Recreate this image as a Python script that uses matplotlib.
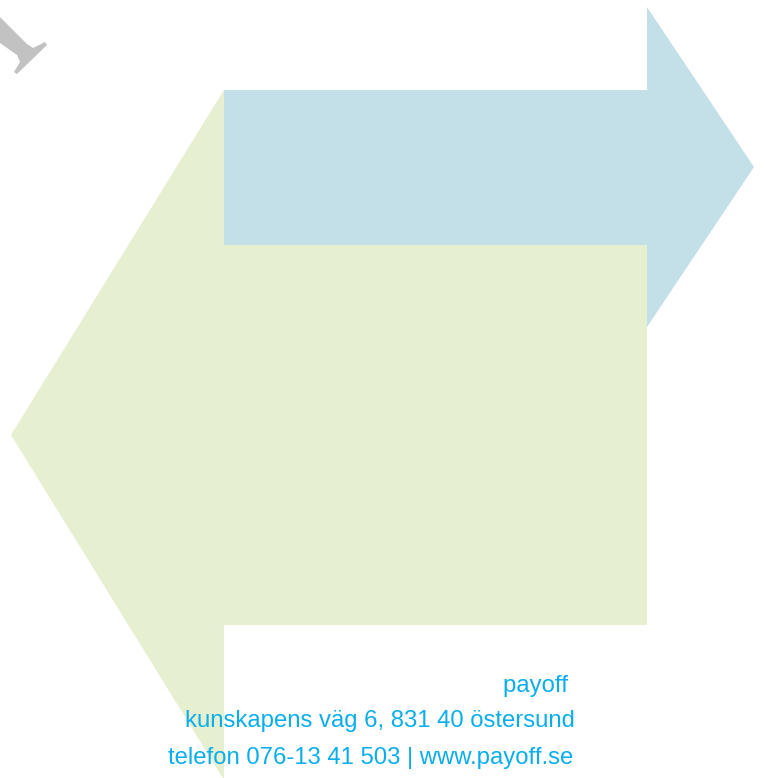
import matplotlib
matplotlib.use("Agg")
import matplotlib.pyplot as plt
from matplotlib.patches import Polygon

# Shapes (outline vertices in page pixel units, y downward)
blue_arrow_x = [224, 647, 647, 754, 647, 647, 224]
blue_arrow_y = [90, 90, 7, 167, 327, 245, 245]
green_arrow_x = [647, 224, 224, 11, 224, 224, 647]
green_arrow_y = [245, 245, 90, 435, 780, 625, 625]
gray_mark_x = [0, 27, 33, 45, 47, 17, 14, 20, 17, 0]
gray_mark_y = [17, 44, 48, 42, 45, 74, 72, 62, 55, 43]

# Footer text lines
footer_lines = ["payoff ", "kunskapens väg 6, 831 40 östersund",
                "telefon 076-13 41 503 | www.payoff.se"]
footer_x = [575, 575, 573]
footer_y = [686, 721, 758]

W, H = 765, 778
fig = plt.figure(figsize=(W / 100, H / 100), dpi=100)
ax = fig.add_axes([0, 0, 1, 1])
ax.set_xlim(0, W)
ax.set_ylim(H, 0)
ax.axis("off")

ax.add_patch(Polygon(list(zip(green_arrow_x, green_arrow_y)), closed=True,
                     facecolor="#e6efd0", edgecolor="none"))
ax.add_patch(Polygon(list(zip(blue_arrow_x, blue_arrow_y)), closed=True,
                     facecolor="#c3e0e9", edgecolor="none"))
ax.add_patch(Polygon(list(zip(gray_mark_x, gray_mark_y)), closed=True,
                     facecolor="#c2c2c2", edgecolor="none"))

for t, x, y in zip(footer_lines, footer_x, footer_y):
    ax.text(x, y, t, ha="right", va="center", color="#0aaeec",
            fontsize=17.2, family="Liberation Sans")

fig.savefig("out.png", dpi=100)
